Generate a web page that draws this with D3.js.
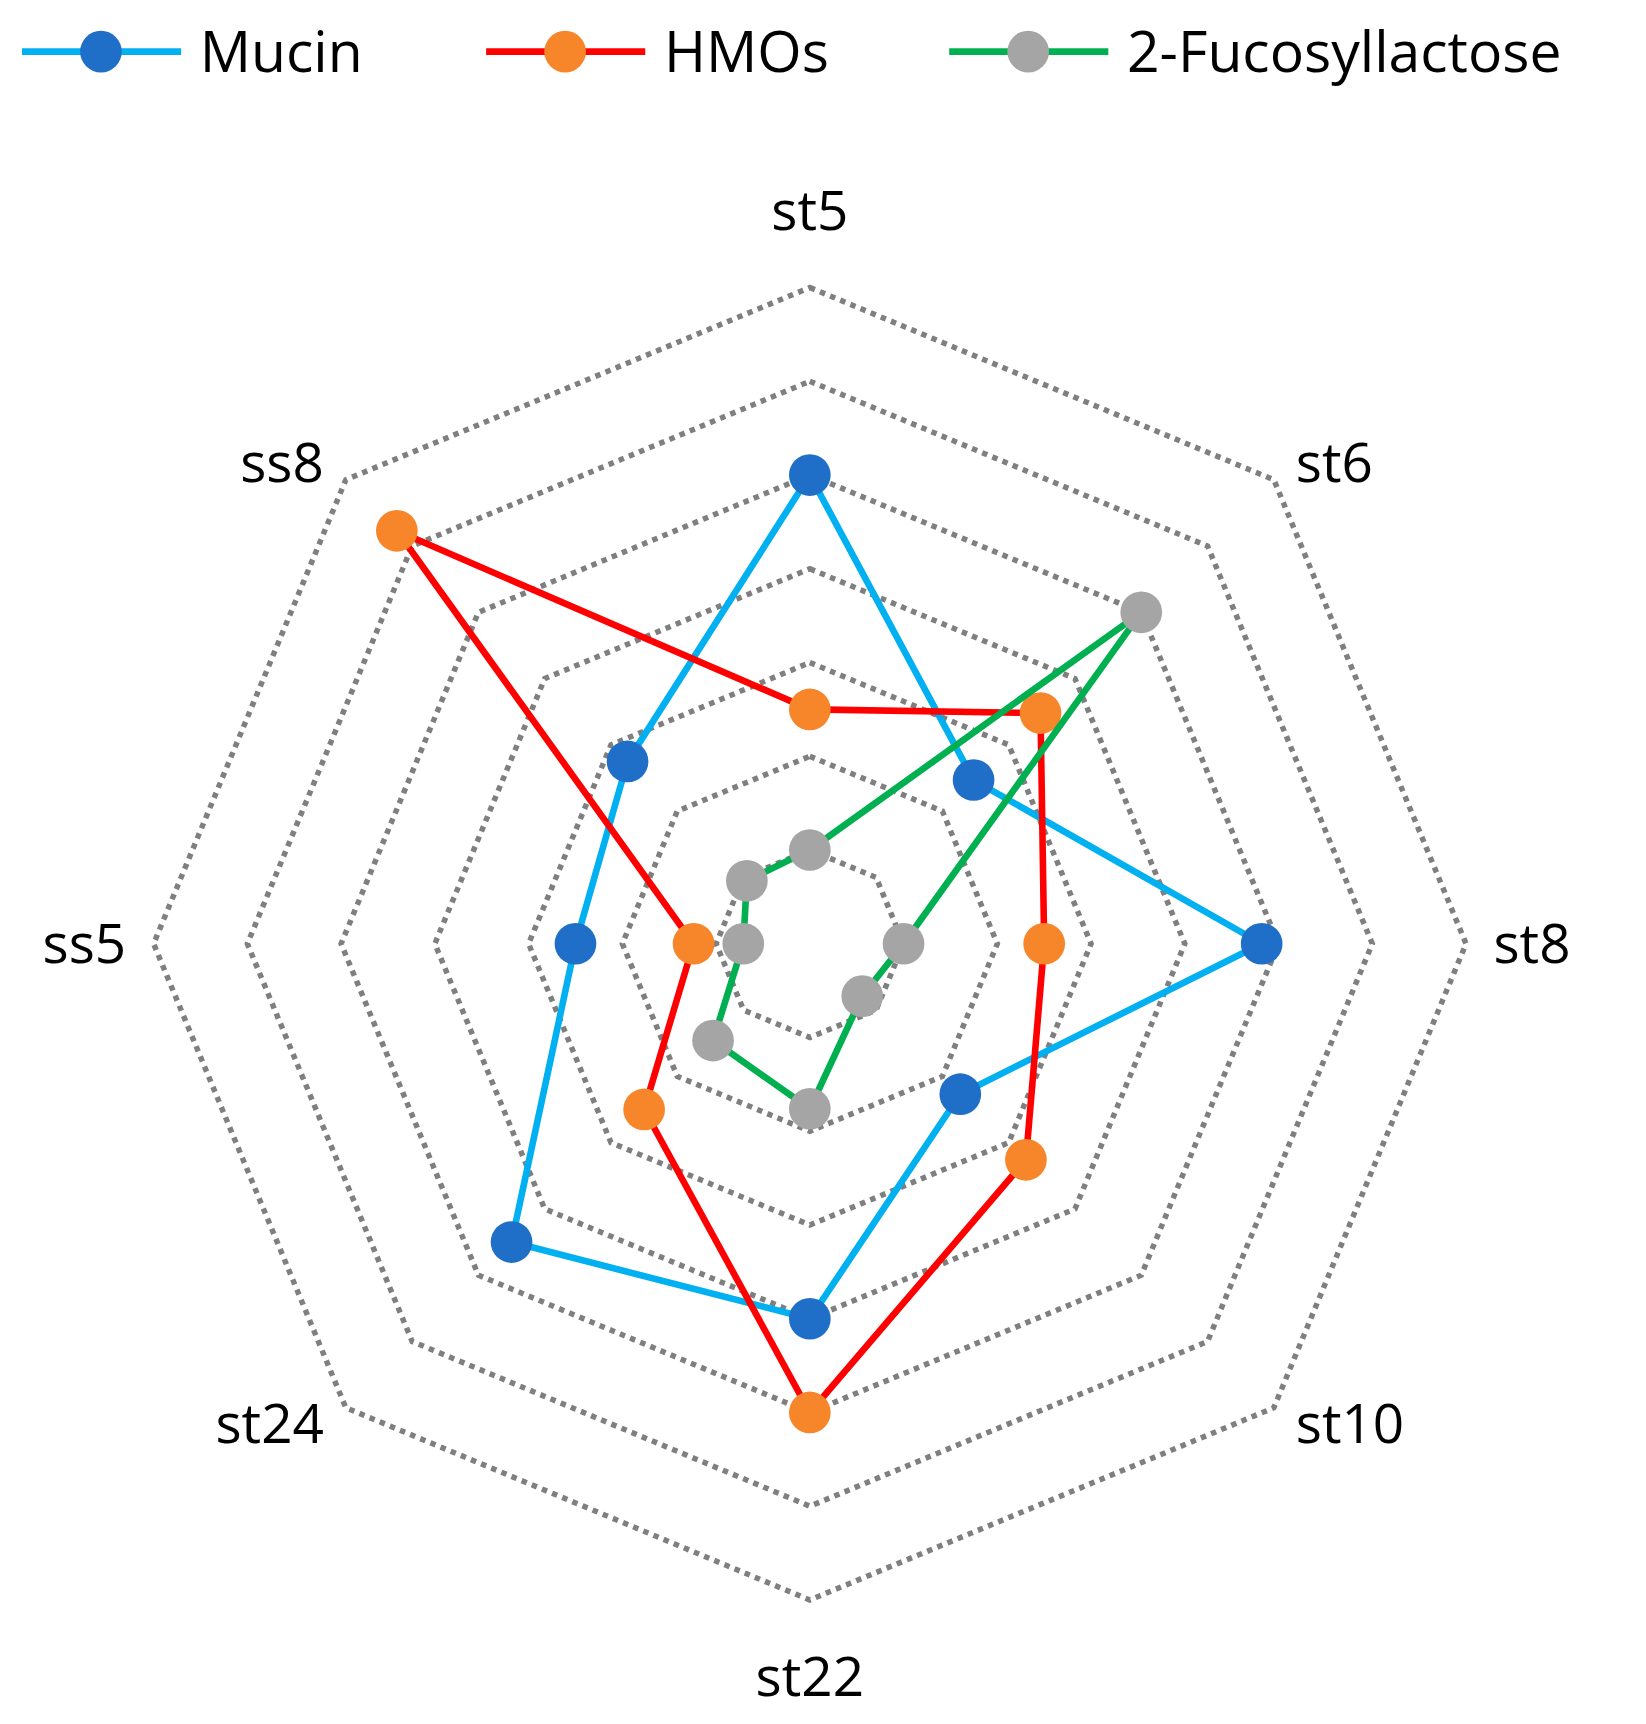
<!DOCTYPE html>
<html><head><meta charset="utf-8">
<script src="https://cdn.jsdelivr.net/npm/d3@7"></script>
<style>body{margin:0;background:#fff}</style>
</head><body>
<svg id="chart"></svg>
<script>
// axes and series
var axes = ["st5", "st6", "st8", "st10", "st22", "st24", "ss5", "ss8"];
var mucin = [5, 2.47, 4.82, 2.27, 4.0, 4.5, 2.5, 2.75];
var hmos = [2.5, 3.48, 2.5, 3.26, 5.0, 2.5, 1.24, 6.23];
var fucosyl = [1.0, 5.0, 1.0, 0.79, 1.76, 1.46, 0.71, 0.95];
var levels = [1, 2, 3, 4, 5, 6, 7];
var seriesNames = ["Mucin", "HMOs", "2-Fucosyllactose"];
var lineColors = ["#00b0f0", "#ff0000", "#00b050"];
var dotColors = ["#1f6fc8", "#f7862a", "#a5a5a5"];

var W = 1500, H = 1571, cx = 738, cy = 860;
var svg = d3.select("#chart").attr("width", 1646).attr("height", 1724)
		.attr("viewBox", "0 0 " + W + " " + H);
var font = "'Open Sans', Lato, sans-serif";

var r = d3.scaleLinear().domain([0, 7]).range([0, 598]);
var angle = d3.scalePoint().domain(axes.concat(["_end"])).range([0, 2 * Math.PI]);
function pt(a, v){
	var t = angle(a);
	return [cx + r(v) * Math.sin(t), cy - r(v) * Math.cos(t)];
}
var line = d3.line().curve(d3.curveLinearClosed);

// grid
levels.forEach(function(l){
	svg.append("path").attr("d", line(axes.map(function(a){ return pt(a, l); })))
		.attr("fill", "none").attr("stroke", "#7f7f7f").attr("stroke-width", 5)
		.attr("stroke-dasharray", "5 5");
});

// axis labels
axes.forEach(function(a){
	var t = angle(a), p = pt(a, 7);
	var s = Math.sin(t), c = Math.cos(t);
	var dx = 0, dy = 0, anchor = "middle";
	if (Math.abs(s) < 0.1) { dy = c > 0 ? -70 : 70; }
	else if (Math.abs(c) < 0.1) { dx = s > 0 ? 25 : -25; anchor = s > 0 ? "start" : "end"; }
	else { dx = s > 0 ? 20 : -20; dy = c > 0 ? -15 : 15; anchor = s > 0 ? "start" : "end"; }
	svg.append("text").attr("x", p[0] + dx).attr("y", p[1] + dy)
		.attr("dy", "0.35em").attr("text-anchor", anchor)
		.style("font-family", font).style("font-size", "50px").text(a);
});

// series
[mucin, hmos, fucosyl].forEach(function(vals, i){
	var pts = axes.map(function(a, j){ return pt(a, vals[j]); });
	svg.append("path").attr("d", line(pts)).attr("fill", "none")
		.attr("stroke", lineColors[i]).attr("stroke-width", 6);
	svg.selectAll(null).data(pts).enter().append("circle")
		.attr("cx", function(d){ return d[0]; }).attr("cy", function(d){ return d[1]; })
		.attr("r", 19).attr("fill", dotColors[i]);
});

// legend
var legX = [20, 443, 865];
seriesNames.forEach(function(n, i){
	var g = svg.append("g").attr("transform", "translate(" + legX[i] + ",47)");
	g.append("line").attr("x1", 0).attr("x2", 145).attr("stroke", lineColors[i]).attr("stroke-width", 6);
	g.append("circle").attr("cx", 72).attr("r", 19).attr("fill", dotColors[i]);
	g.append("text").attr("x", 162).attr("dy", "0.35em").style("font-family", font)
		.style("font-size", "52px").text(n);
});
</script>
</body></html>
